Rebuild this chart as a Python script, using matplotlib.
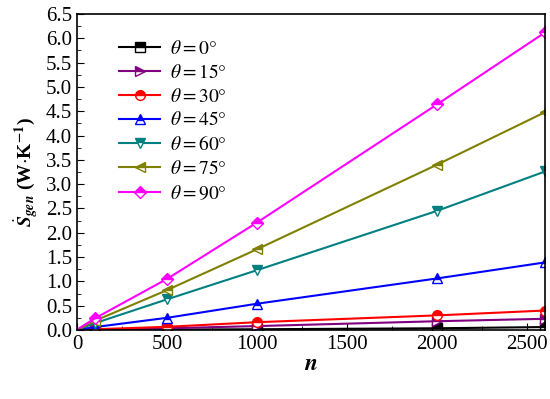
import numpy as np
import matplotlib
matplotlib.use('Agg')
from matplotlib import pyplot as plt
from matplotlib.ticker import MultipleLocator

plt.rcParams['font.family'] = ['Liberation Serif', 'DejaVu Serif']
plt.rcParams['mathtext.fontset'] = 'stix'

n = [10, 100, 500, 1000, 2000, 2600]
angles = [0, 15, 30, 45, 60, 75, 90]
s0 = [0.0, 0.002, 0.008, 0.015, 0.035, 0.06]
s15 = [0.0, 0.008, 0.035, 0.08, 0.18, 0.23]
s30 = [0.0, 0.015, 0.065, 0.16, 0.30, 0.40]
s45 = [0.01, 0.06, 0.25, 0.54, 1.06, 1.39]
s60 = [0.02, 0.14, 0.63, 1.23, 2.45, 3.26]
s75 = [0.02, 0.19, 0.82, 1.66, 3.40, 4.48]
s90 = [0.03, 0.24, 1.05, 2.21, 4.64, 6.12]
series = [s0, s15, s30, s45, s60, s75, s90]
colors = ['black', '#800080', 'red', 'blue', '#008080', '#808000', 'magenta']
markers = ['s', '>', 'o', '^', 'v', '<', 'D']

fig = plt.figure(figsize=(5.5, 3.99), dpi=100)
ax = fig.add_axes([0.14, 0.173, 0.851, 0.792])

for s, a, c, m in zip(series, angles, colors, markers):
    ms = 7 if m != 'D' else 6
    ax.plot(n[1:], s[1:], color=c, marker=m, fillstyle='top', markerfacecoloralt='white',
            markeredgecolor=c, markersize=ms, lw=1.5, label=r'$\theta = %d\degree$' % a)
    ax.plot(n[:2], s[:2], color=c, lw=1.5)

ax.set_xlim(0, 2600)
ax.set_ylim(0, 6.5)
ax.xaxis.set_major_locator(MultipleLocator(500))
ax.xaxis.set_minor_locator(MultipleLocator(250))
ax.yaxis.set_major_locator(MultipleLocator(0.5))
ax.yaxis.set_minor_locator(MultipleLocator(0.25))
ax.tick_params(which='both', direction='in', top=False, right=False, labelsize=15)
ax.tick_params(which='major', length=5)
ax.tick_params(which='minor', length=3)
ax.yaxis.set_major_formatter(matplotlib.ticker.FormatStrFormatter('%.1f'))
for sp in ax.spines.values():
    sp.set_linewidth(1.2)

ax.set_xlabel(r'$\boldsymbol{n}$', fontsize=17, labelpad=0)
ax.set_ylabel(r'$\dot{\boldsymbol{S}}_{\boldsymbol{gen}}$ (W$\cdot$K$^{\mathbf{-1}}$)', fontsize=14,
              fontweight='bold', labelpad=4)

ax.legend(loc='upper left', bbox_to_anchor=(0.065, 0.955), frameon=False, fontsize=14,
          handlelength=2.1, handletextpad=0.5, labelspacing=0.3, borderaxespad=0.2)

fig.savefig('out.png', dpi=100)
